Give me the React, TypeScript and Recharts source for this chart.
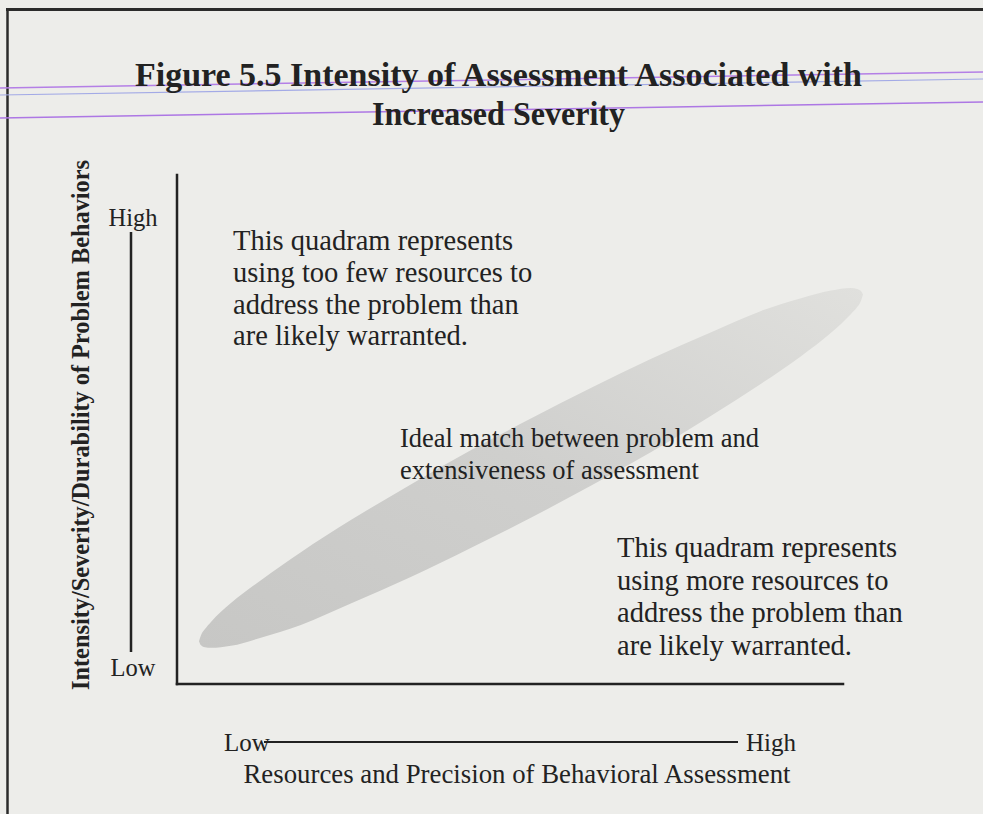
import React from "react";
import { ComposedChart, Area, XAxis, YAxis, ReferenceLine } from "recharts";

// Band of "ideal match": x positions and the band's lower / upper edge
const ellipseX = [3.3, 3.6, 4.2, 5.1, 8.1, 12.6, 18.6, 26.1, 35.1, 44.1, 53.2, 62.2, 71.2, 80.2, 87.7, 93.7, 98.2, 101.2, 102.1, 102.7, 103.0];
const ellipseTop = [8.4, 9.6, 10.8, 12.2, 15.9, 20.4, 25.9, 32.2, 39.2, 45.9, 52.2, 58.2, 63.9, 69.1, 73.3, 75.8, 77.3, 77.8, 77.6, 77.2, 76.5];
const ellipseBottom = [8.4, 7.6, 7.2, 7.1, 7.5, 9.1, 11.6, 15.8, 21.0, 26.7, 32.7, 39.0, 45.6, 52.7, 59.0, 64.4, 69.0, 72.7, 74.0, 75.3, 76.5];

// Axis extents (Low -> High)
const axisRange = [0, 100];

// Texts
const titleLines = ["Figure 5.5 Intensity of Assessment Associated with", "Increased Severity"];
const yAxisTitle = "Intensity/Severity/Durability of Problem Behaviors";
const xAxisTitle = "Resources and Precision of Behavioral Assessment";
const scaleLabels = ["Low", "High"];
const upperQuadText = ["This quadram represents", "using too few resources to", "address the problem than", "are likely warranted."];
const idealText = ["Ideal match between problem and", "extensiveness of assessment"];
const lowerQuadText = ["This quadram represents", "using more resources to", "address the problem than", "are likely warranted."];

const bandData = ellipseX.map((x, i) => ({ x, range: [ellipseBottom[i], ellipseTop[i]] }));

const INK = "#222222";
const FONT = "'Liberation Serif', 'Times New Roman', serif";

function Overlay() {
  return (
    <svg width={983} height={814} style={{ position: "absolute", left: 0, top: 0, pointerEvents: "none" }}>
      {/* frame */}
      <line x1={6} y1={9.5} x2={983} y2={9.5} stroke="#2b2b2b" strokeWidth={3} />
      <line x1={7.5} y1={8} x2={7.5} y2={814} stroke="#2b2b2b" strokeWidth={2.5} />
      {/* ruled lines of the page */}
      <line x1={0} y1={88} x2={983} y2={72} stroke="#b47fe6" strokeWidth={1.5} />
      <line x1={0} y1={95} x2={983} y2={79} stroke="#a3aae6" strokeWidth={1.2} />
      <line x1={0} y1={118} x2={983} y2={102} stroke="#ad77e4" strokeWidth={1.5} />
      {/* title */}
      <g fontFamily={FONT} fill={INK} fontWeight="bold" fontSize={33}>
        <text x={498.5} y={86} textAnchor="middle" textLength={727} lengthAdjust="spacingAndGlyphs">{titleLines[0]}</text>
        <text x={498.5} y={125} textAnchor="middle" textLength={253} lengthAdjust="spacingAndGlyphs">{titleLines[1]}</text>
      </g>
      {/* y title */}
      <text transform="translate(89,425) rotate(-90)" textAnchor="middle" fontFamily={FONT} fontSize={25} fontWeight="bold" fill={INK}
        textLength={530} lengthAdjust="spacingAndGlyphs">{yAxisTitle}</text>
      {/* y scale indicator */}
      <g fontFamily={FONT} fontSize={24.5} fill={INK}>
        <text x={133} y={226} textAnchor="middle">{scaleLabels[1]}</text>
        <text x={133} y={676} textAnchor="middle">{scaleLabels[0]}</text>
      </g>
      <line x1={131} y1={232} x2={131} y2={652} stroke={INK} strokeWidth={2.5} />
      {/* x scale indicator */}
      <g fontFamily={FONT} fontSize={25} fill={INK}>
        <text x={224} y={751}>{scaleLabels[0]}</text>
        <text x={746} y={751}>{scaleLabels[1]}</text>
        <text x={517} y={783} textAnchor="middle" fontSize={26.5} textLength={547} lengthAdjust="spacingAndGlyphs">{xAxisTitle}</text>
      </g>
      <line x1={264} y1={742} x2={738} y2={742} stroke={INK} strokeWidth={2.2} />
      {/* quadrant annotations */}
      <g fontFamily={FONT} fontSize={28.5} fill={INK}>
        {upperQuadText.map((t, i) => (
          <text key={"u" + i} x={233} y={250 + i * 31.8}>{t}</text>
        ))}
        {lowerQuadText.map((t, i) => (
          <text key={"l" + i} x={617} y={557 + i * 32.7}>{t}</text>
        ))}
      </g>
      <g fontFamily={FONT} fontSize={26.5} fill={INK}>
        {idealText.map((t, i) => (
          <text key={"m" + i} x={400} y={447 + i * 32}>{t}</text>
        ))}
      </g>
    </svg>
  );
}

export default function App() {
  return (
    <div style={{ position: "absolute", left: 0, top: 0, width: 983, height: 814, background: "#ededea", overflow: "hidden" }}>
      <div style={{ position: "absolute", left: 0, top: 0 }}>
        <ComposedChart width={983} height={814} data={bandData} margin={{ top: 175, right: 120, bottom: 130, left: 177 }}>
          <defs>
            <linearGradient id="bandGrad" x1="0" y1="1" x2="1" y2="0">
              <stop offset="0%" stopColor="#c7c7c5" />
              <stop offset="50%" stopColor="#cfcfcd" />
              <stop offset="100%" stopColor="#e0e0dd" />
            </linearGradient>
          </defs>
          <XAxis type="number" dataKey="x" domain={[0, 103]} hide />
          <YAxis type="number" domain={[0, 100]} hide />
          <Area type="monotone" dataKey="range" stroke="none" fill="url(#bandGrad)" fillOpacity={1} isAnimationActive={false} activeDot={false} />
          <ReferenceLine segment={[{ x: axisRange[0], y: axisRange[0] }, { x: axisRange[1], y: axisRange[0] }]} stroke={INK} strokeWidth={2.5} strokeLinecap="square" ifOverflow="visible" />
          <ReferenceLine segment={[{ x: axisRange[0], y: axisRange[0] }, { x: axisRange[0], y: axisRange[1] }]} stroke={INK} strokeWidth={2.5} strokeLinecap="square" ifOverflow="visible" />
        </ComposedChart>
      </div>
      <Overlay />
    </div>
  );
}
